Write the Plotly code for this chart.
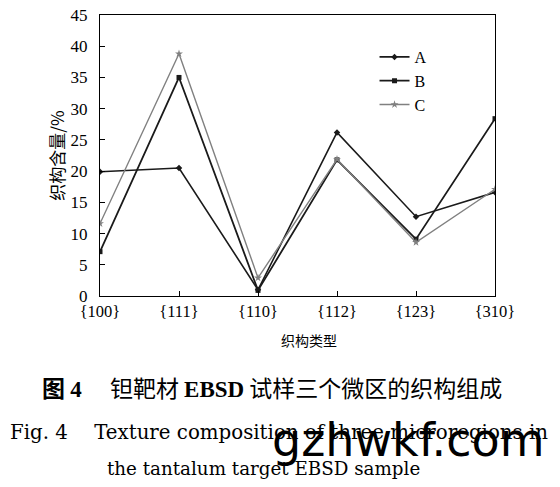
import plotly.graph_objects as go

categories = ['{100}', '{111}', '{110}', '{112}', '{123}', '{310}']
series_a = [19.9, 20.5, 1.0, 26.2, 12.7, 16.6]
series_b = [7.1, 35.0, 0.9, 21.8, 9.1, 28.4]
series_c = [11.6, 38.8, 2.9, 21.9, 8.6, 17.1]
y_ticks = [0, 5, 10, 15, 20, 25, 30, 35, 40, 45]

serif = 'Liberation Serif, Times New Roman, serif'
wide_serif = 'DejaVu Serif'
cjk = 'Noto Sans CJK SC'

fig = go.Figure()

fig.add_trace(go.Scatter(
    x=categories, y=series_a, name='A', mode='lines+markers',
    line=dict(color='#1a1a1a', width=1.6),
    marker=dict(symbol='diamond', size=5, color='#1a1a1a')
))
fig.add_trace(go.Scatter(
    x=categories, y=series_b, name='B', mode='lines+markers',
    line=dict(color='#1a1a1a', width=1.8),
    marker=dict(symbol='square', size=5, color='#1a1a1a')
))
fig.add_trace(go.Scatter(
    x=categories, y=series_c, name='C', mode='lines+markers',
    line=dict(color='#808080', width=1.4),
    marker=dict(symbol='star', size=6, color='#808080')
))

# 坐标区高度（像素），用于把标注换算到 paper 坐标
plot_h = 281

def py(page_y):
    # page_y: 浏览器页面中的像素位置（页面有 8px 边距）
    return (296 - page_y) / plot_h

# x 轴标题（略偏右，与原图一致）
fig.add_annotation(
    text='织构类型', xref='paper', yref='paper', x=0.529, y=py(340),
    xanchor='center', yanchor='middle', showarrow=False,
    font=dict(family=cjk, size=14, color='black')
)

# 图注与英文标题
sp = '<span style="font-family:Liberation Serif">'
fig.add_annotation(
    text='<b>图 ' + sp + '4</span></b>　 钽靶材 <b>' + sp + 'EBSD</span></b> 试样三个微区的织构组成',
    xref='paper', yref='paper', x=0.435, y=py(387), xanchor='center', yanchor='middle',
    showarrow=False, font=dict(family=cjk, size=23, color='black')
)
fig.add_annotation(
    text='Fig. 4　 Texture composition of three microregions in',
    xref='paper', yref='paper', x=-0.233, y=py(432), xanchor='left', yanchor='middle',
    showarrow=False, font=dict(family=wide_serif, size=19.8, color='black')
)
fig.add_annotation(
    text='the tantalum target EBSD sample',
    xref='paper', yref='paper', x=0.415, y=py(468), xanchor='center', yanchor='middle',
    showarrow=False, font=dict(family=wide_serif, size=18.3, color='black')
)
fig.add_annotation(
    text='gzhwkf.com',
    xref='paper', yref='paper', x=0.43, y=py(440), xanchor='left', yanchor='middle',
    showarrow=False, font=dict(family='DejaVu Sans', size=46, color='black')
)

fig.update_layout(
    width=552, height=479,
    margin=dict(l=92, r=65, t=7, b=191),
    plot_bgcolor='white', paper_bgcolor='white',
    showlegend=True,
    legend=dict(
        x=0.695, y=py(40), xanchor='left', yanchor='top',
        bgcolor='rgba(0,0,0,0)', font=dict(family=serif, size=16, color='black'),
        itemwidth=30, tracegroupgap=2
    ),
    xaxis=dict(
        type='category', range=[0, 5], automargin=False,
        showline=True, linecolor='black', linewidth=1.2, mirror=True,
        ticks='inside', ticklen=5, tickcolor='black',
        showgrid=False, zeroline=False,
        tickfont=dict(family=serif, size=16.5, color='black')
    ),
    yaxis=dict(
        range=[0, 45], tickvals=y_ticks, automargin=False,
        showline=True, linecolor='black', linewidth=1.2, mirror=True,
        ticks='inside', ticklen=5, tickcolor='black',
        showgrid=False, zeroline=False, ticklabelstandoff=8,
        ticklabeloverflow='allow',
        tickfont=dict(family=serif, size=17, color='black'),
        title=dict(text='织构含量/%', font=dict(family=cjk, size=17, color='black'), standoff=1)
    )
)

fig.write_html('out.html')
